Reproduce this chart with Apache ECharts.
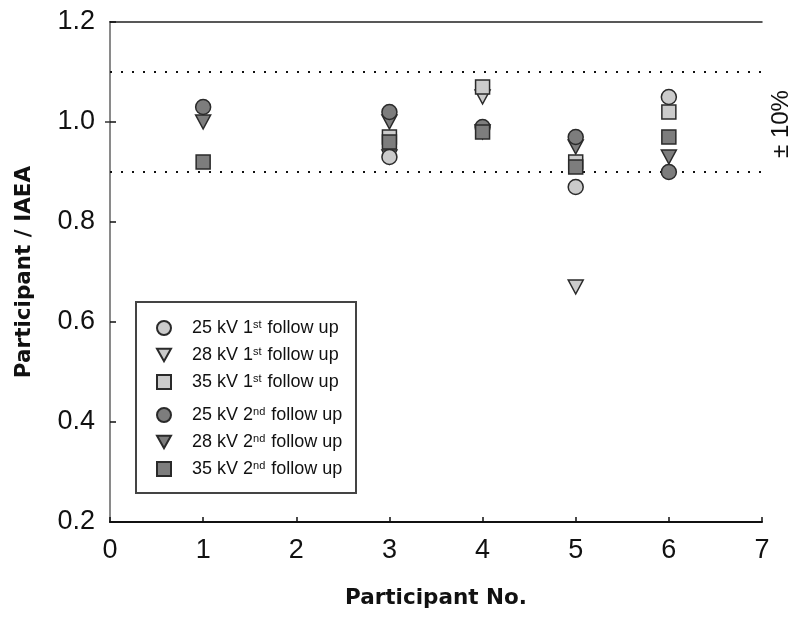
<!DOCTYPE html>
<html>
<head>
<meta charset="utf-8">
<script src="https://cdn.jsdelivr.net/npm/echarts@6/dist/echarts.min.js"></script>
<style>
  html, body { margin: 0; padding: 0; background: #fff; }
  #chart { width: 803px; height: 617px; }
</style>
</head>
<body>
<div id="chart"></div>
<script>
// participant numbers that have measurements
const participants = [1, 3, 4, 5, 6];

// ratio participant / IAEA, one value per participant (null = not visible)
const kv25First  = [null, 0.93, null, 0.87, 1.05];
const kv28First  = [null, 0.93, 1.05, 0.67, null];
const kv35First  = [null, 0.97, 1.07, 0.92, 1.02];
const kv25Second = [1.03, 1.02, 0.99, 0.97, 0.90];
const kv28Second = [1.00, 1.00, 0.98, 0.95, 0.93];
const kv35Second = [0.92, 0.96, 0.98, 0.91, 0.97];

const xTicks = [0, 1, 2, 3, 4, 5, 6, 7];
const yTicks = [0.2, 0.4, 0.6, 0.8, 1.0, 1.2];
const limits = [1.1, 0.9];

const FONT = "'Liberation Sans', Arial, sans-serif";
const BOLD_FONT = "'DejaVu Sans', Verdana, sans-serif";
const LIGHT = '#cbcbcb';
const DARK = '#7d7d7d';
const TRI_DOWN = 'path://M0,0 L10,0 L5,9 Z';

function pairs(vals) {
  const out = [];
  participants.forEach((p, i) => {
    if (vals[i] != null) out.push([p, vals[i]]);
  });
  return out;
}

function scatter(name, vals, symbol, size, fill, z) {
  return {
    type: 'scatter',
    name: name,
    data: pairs(vals),
    symbol: symbol,
    symbolSize: size,
    z: z,
    itemStyle: { color: fill, borderColor: '#2a2a2a', borderWidth: 1.5, opacity: 1 },
    emphasis: { disabled: true }
  };
}

// triangles at the back, then circles, squares on top
const series = [
  scatter('25 kV 1st follow up', kv25First, 'circle', 15, LIGHT, 4),
  scatter('28 kV 1st follow up', kv28First, TRI_DOWN, [15, 14], LIGHT, 2),
  scatter('35 kV 1st follow up', kv35First, 'rect', 14, LIGHT, 6),
  scatter('25 kV 2nd follow up', kv25Second, 'circle', 15, DARK, 5),
  scatter('28 kV 2nd follow up', kv28Second, TRI_DOWN, [15, 14], DARK, 3),
  scatter('35 kV 2nd follow up', kv35Second, 'rect', 14, DARK, 7)
];

series[0].markLine = {
  silent: true,
  symbol: ['none', 'none'],
  label: { show: false },
  lineStyle: { color: '#111', width: 2, type: [2, 9] },
  data: limits.map(v => ({ yAxis: v }))
};

const legendText = {
  color: '#111',
  fontFamily: FONT,
  fontSize: 18,
  padding: [0, 0, 0, 16],
  rich: {
    sup: { fontSize: 11, fontFamily: FONT, color: '#111', verticalAlign: 'top', padding: [0, 1, 6, 0] }
  }
};

function legendFmt(name) {
  return name.replace(/ (\d)(st|nd) /, ' $1{sup|$2} ');
}

const legendBase = {
  orient: 'vertical',
  left: 151,
  itemWidth: 14,
  itemHeight: 14,
  itemGap: 9,
  selectedMode: false,
  formatter: legendFmt,
  textStyle: legendText
};

const chart = echarts.init(document.getElementById('chart'));

chart.setOption({
  animation: false,
  backgroundColor: '#fff',
  grid: { left: 110, right: 41, top: 22, bottom: 95 },
  xAxis: [
    {
      type: 'value',
      position: 'bottom',
      min: xTicks[0],
      max: xTicks[xTicks.length - 1],
      interval: 1,
      name: 'Participant No.',
      nameLocation: 'middle',
      nameGap: 65,
      nameTextStyle: { fontFamily: BOLD_FONT, fontSize: 21.5, fontWeight: 'bold', color: '#111' },
      axisLine: { lineStyle: { color: '#111', width: 2 } },
      axisTick: { inside: true, length: 5, lineStyle: { color: '#111', width: 1.5 } },
      axisLabel: { fontFamily: FONT, fontSize: 27, color: '#111', margin: 15 },
      splitLine: { show: false }
    },
    {
      type: 'value',
      position: 'top',
      min: 0,
      max: 7,
      axisLine: { show: true, lineStyle: { color: '#222', width: 1.5 } },
      axisTick: { show: false },
      axisLabel: { show: false },
      splitLine: { show: false }
    }
  ],
  yAxis: [
    {
      type: 'value',
      position: 'left',
      min: yTicks[0],
      max: yTicks[yTicks.length - 1],
      interval: 0.2,
      name: 'Participant / IAEA',
      nameLocation: 'middle',
      nameGap: 75,
      nameTextStyle: { fontFamily: BOLD_FONT, fontSize: 21.5, fontWeight: 'bold', color: '#111' },
      axisLine: { show: true, lineStyle: { color: '#111', width: 2 } },
      axisTick: { show: true, inside: true, length: 6, lineStyle: { color: '#111', width: 1.5 } },
      axisLabel: { fontFamily: FONT, fontSize: 27, color: '#111', margin: 15, formatter: v => v.toFixed(1) },
      splitLine: { show: false }
    },
    {
      type: 'value',
      position: 'right',
      min: 0.2,
      max: 1.2,
      axisLine: { show: true, lineStyle: { color: '#8a8a8a', width: 2 } },
      axisTick: { show: true, inside: true, length: 5, customValues: [1.0], lineStyle: { color: '#333', width: 1.5 } },
      axisLabel: { show: false },
      splitLine: { show: false }
    }
  ],
  legend: [
    Object.assign({}, legendBase, { top: 314, data: series.slice(0, 3).map(s => s.name) }),
    Object.assign({}, legendBase, { top: 401, data: series.slice(3).map(s => s.name) })
  ],
  graphic: [
    {
      type: 'rect',
      z: -1,
      shape: { x: 136, y: 302, width: 220, height: 191 },
      style: { fill: '#fff', stroke: '#444', lineWidth: 2 }
    },
    {
      type: 'text',
      x: 781,
      y: 124,
      rotation: Math.PI / 2,
      style: {
        text: '\u00b1 10%',
        fontFamily: FONT,
        fontSize: 24,
        fill: '#111',
        align: 'center',
        verticalAlign: 'middle'
      }
    }
  ],
  series: series
});
</script>
</body>
</html>
